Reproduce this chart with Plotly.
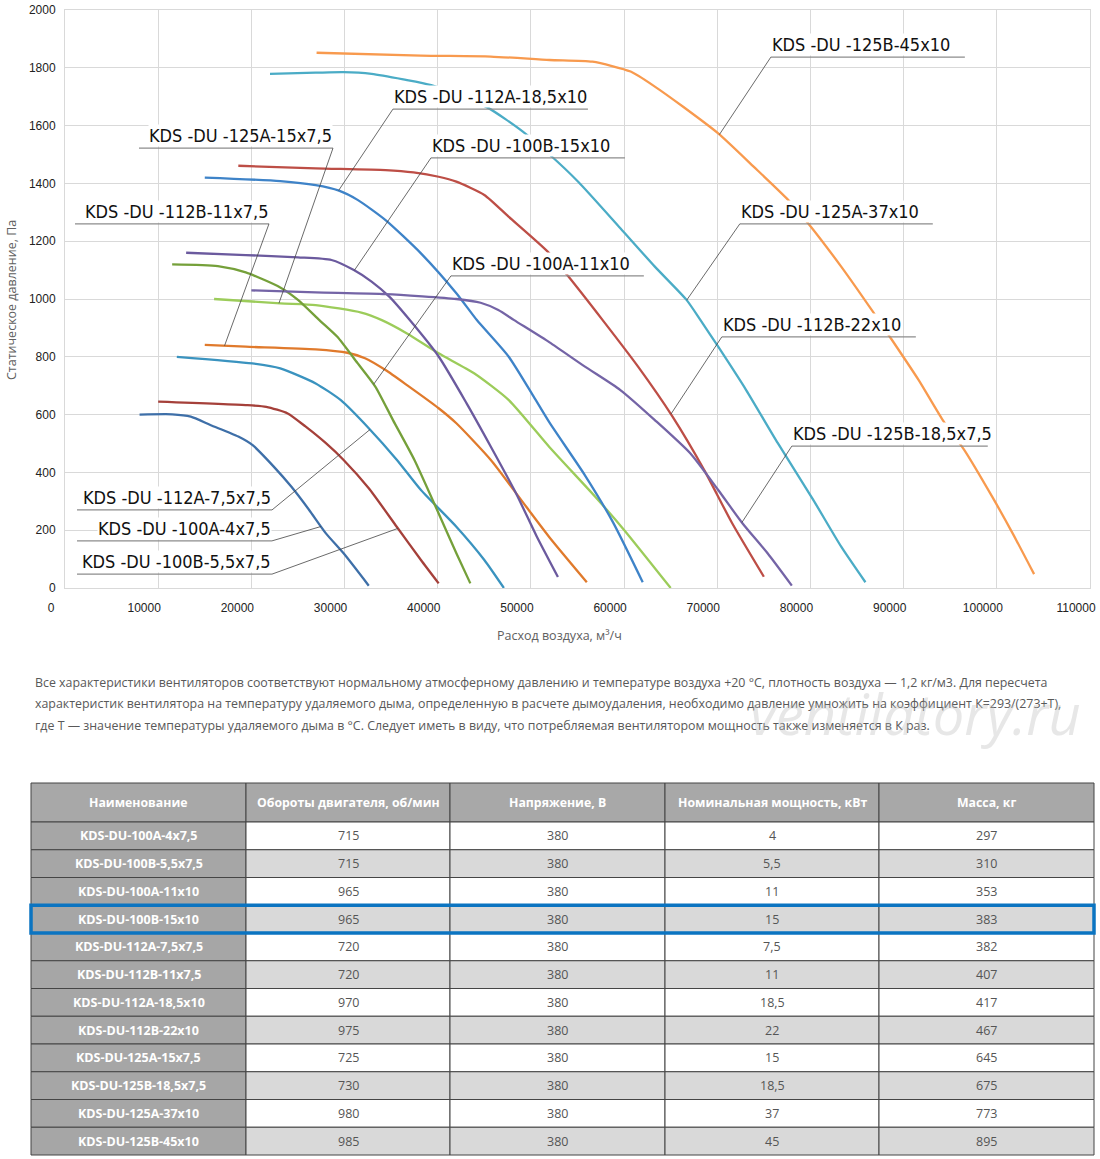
import numpy as np
import plotly.graph_objects as go

# --- fan curves: airflow (m3/h) vs static pressure (Pa) ---
q_100a_4 = [8000, 11500, 13500, 15600, 18600, 20100, 22400, 24300, 26200, 28000, 29900, 32600]
p_100a_4 = [600, 601, 593, 564, 524, 495, 420, 350, 270, 189, 120, 8]

q_100b_55 = [10000, 19400, 21600, 23900, 25800, 28000, 29900, 32600, 35600, 38200, 40100]
p_100b_55 = [645, 633, 627, 604, 559, 501, 443, 345, 212, 97, 16]

q_112a_75 = [12000, 20100, 23100, 26900, 29600, 32600, 35600, 38200, 42000, 45000, 47100]
p_112a_75 = [800, 777, 760, 708, 650, 553, 444, 339, 212, 97, 0]

q_112b_11 = [15000, 19400, 26900, 30300, 32200, 34400, 36700, 40100, 42000, 45700, 49500, 52000, 56000]
p_112b_11 = [841, 835, 826, 814, 795, 754, 702, 622, 570, 443, 281, 175, 20]

q_125a_15 = [16000, 23100, 26900, 31800, 34000, 36700, 40100, 43900, 47600, 52000, 56900, 60000, 65000]
p_125a_15 = [1000, 985, 979, 953, 927, 881, 812, 743, 651, 487, 316, 201, 0]

q_100a_11 = [11500, 16400, 19400, 23100, 25000, 27300, 29200, 31400, 33300, 35200, 37500, 40100, 42000, 43500]
p_100a_11 = [1120, 1114, 1092, 1040, 997, 927, 870, 778, 697, 581, 443, 258, 120, 16]

q_100b_15 = [13000, 19400, 25000, 28600, 31000, 32900, 34800, 37000, 40100, 43100, 45700, 48400, 50600, 52900]
p_100b_15 = [1160, 1152, 1144, 1135, 1100, 1060, 1008, 927, 801, 639, 489, 328, 180, 38]

q_112a_185 = [15000, 23100, 26900, 29400, 31400, 34400, 38200, 42000, 44200, 47600, 50300, 52000, 55800, 58800, 62000]
p_112a_185 = [1420, 1408, 1394, 1375, 1343, 1273, 1158, 1020, 927, 801, 662, 572, 390, 228, 20]

q_112b_22 = [18600, 26900, 34400, 37400, 40100, 42000, 45000, 47600, 51800, 53900, 57700, 61500, 65200, 68600, 71600, 75000]
p_112b_22 = [1461, 1452, 1446, 1438, 1423, 1406, 1360, 1285, 1164, 1083, 927, 766, 593, 408, 224, 39]

q_125b_185 = [20000, 26900, 34400, 42000, 44600, 46500, 48200, 52000, 55800, 59600, 63300, 67100, 70100, 72700, 75400, 78000]
p_125b_185 = [1030, 1023, 1017, 1000, 987, 962, 927, 850, 766, 685, 581, 466, 339, 224, 120, 8]

q_125a_37 = [22000, 26900, 29900, 32900, 36300, 39300, 45300, 49100, 52000, 55100, 59600, 63300, 66700, 68200,
             70100, 73100, 76500, 80300, 83300, 85900]
p_125a_37 = [1779, 1783, 1785, 1779, 1760, 1740, 1663, 1580, 1500, 1405, 1245, 1112, 997, 927,
             835, 685, 501, 305, 143, 20]

q_125b_45 = [27000, 38200, 45700, 52000, 56600, 60700, 63300, 66300, 70100, 73900, 77600, 79700, 83300, 86700,
             88400, 91600, 94200, 96500, 99500, 101700, 104000]
p_125b_45 = [1852, 1842, 1839, 1827, 1821, 1787, 1735, 1666, 1573, 1458, 1343, 1264, 1112, 956,
             875, 720, 581, 478, 316, 189, 48]

# name, flows, pressures, colour
curves = [
    ("KDS-DU-100A-4x7,5", q_100a_4, p_100a_4, "#3e6fa8"),
    ("KDS-DU-100B-5,5x7,5", q_100b_55, p_100b_55, "#a5403a"),
    ("KDS-DU-112A-7,5x7,5", q_112a_75, p_112a_75, "#3a93bf"),
    ("KDS-DU-112B-11x7,5", q_112b_11, p_112b_11, "#e07a2c"),
    ("KDS-DU-125A-15x7,5", q_125a_15, p_125a_15, "#9ccc5a"),
    ("KDS-DU-100A-11x10", q_100a_11, p_100a_11, "#75a03a"),
    ("KDS-DU-100B-15x10", q_100b_15, p_100b_15, "#6b5a9e"),
    ("KDS-DU-112A-18,5x10", q_112a_185, p_112a_185, "#3e83c8"),
    ("KDS-DU-112B-22x10", q_112b_22, p_112b_22, "#bd4e46"),
    ("KDS-DU-125B-18,5x7,5", q_125b_185, p_125b_185, "#7464a6"),
    ("KDS-DU-125A-37x10", q_125a_37, p_125a_37, "#4bacc6"),
    ("KDS-DU-125B-45x10", q_125b_45, p_125b_45, "#f89a4e"),
]

# callout labels: curve name, underline x0, x1, underline y, leader side, target flow on curve
callouts = [
    ("KDS-DU-125B-45x10", 75750, 96570, 1837, "left", 70230),
    ("KDS-DU-112A-18,5x10", 35190, 56120, 1657, "left", 29360),
    ("KDS-DU-125A-15x7,5", 7940, 28760, 1522, "right", 22960),
    ("KDS-DU-100B-15x10", 39270, 60090, 1488, "left", 31050),
    ("KDS-DU-112B-11x7,5", 1070, 21890, 1260, "right", 17120),
    ("KDS-DU-125A-37x10", 72420, 93130, 1260, "left", 66720),
    ("KDS-DU-100A-11x10", 41420, 62120, 1080, "left", 33120),
    ("KDS-DU-112B-22x10", 70490, 91310, 869, "left", 65020),
    ("KDS-DU-125B-18,5x7,5", 78000, 99030, 491, "left", 72640),
    ("KDS-DU-112A-7,5x7,5", 1290, 22210, 270, "right", 32730),
    ("KDS-DU-100A-4x7,5", 1290, 22210, 163, "right", 27470),
    ("KDS-DU-100B-5,5x7,5", 1290, 22210, 48, "right", 35730),
]

# --- table ---
tbl_header = ["Наименование", "Обороты двигателя, об/мин", "Напряжение, В", "Номинальная мощность, кВт", "Масса, кг"]
tbl_names = ["KDS-DU-100A-4x7,5", "KDS-DU-100B-5,5x7,5", "KDS-DU-100A-11x10", "KDS-DU-100B-15x10",
             "KDS-DU-112A-7,5x7,5", "KDS-DU-112B-11x7,5", "KDS-DU-112A-18,5x10", "KDS-DU-112B-22x10",
             "KDS-DU-125A-15x7,5", "KDS-DU-125B-18,5x7,5", "KDS-DU-125A-37x10", "KDS-DU-125B-45x10"]
tbl_rpm = [715, 715, 965, 965, 720, 720, 970, 975, 725, 730, 980, 985]
tbl_voltage = [380, 380, 380, 380, 380, 380, 380, 380, 380, 380, 380, 380]
tbl_power = ["4", "5,5", "11", "15", "7,5", "11", "18,5", "22", "15", "18,5", "37", "45"]
tbl_mass = [297, 310, 353, 383, 382, 407, 417, 467, 645, 675, 773, 895]
highlight_row = 3

note_lines = [
    "Все характеристики вентиляторов соответствуют нормальному атмосферному давлению и температуре воздуха +20 °С, плотность воздуха — 1,2 кг/м3. Для пересчета",
    "характеристик вентилятора на температуру удаляемого дыма, определенную в расчете дымоудаления, необходимо давление умножить на коэффициент К=293/(273+Т),",
    "где Т — значение температуры удаляемого дыма в °С. Следует иметь в виду, что потребляемая вентилятором мощность также изменяется в К раз.",
]

W, H = 1100, 1159


def px(x):
    return x / W


def py(y):
    return 1 - y / H


LABEL_FONT = "DejaVu Sans Condensed, Liberation Sans Narrow, Roboto, sans-serif"
TEXT_FONT = "Open Sans, Noto Sans, sans-serif"

fig = go.Figure()

for name, q, p, col in curves:
    fig.add_trace(go.Scatter(x=q, y=p, mode="lines", name=name,
                             line=dict(color=col, width=2.3, shape="spline", smoothing=0.6),
                             showlegend=False, hoverinfo="x+y+name"))

lookup = {c[0]: c for c in curves}
shapes = []
annotations = []
for name, x0, x1, uy, side, tq in callouts:
    _, q, p, _ = lookup[name]
    ty = float(np.interp(tq, q, p))
    sx = x0 if side == "left" else x1
    annotations.append(dict(
        x=sx, y=uy, xref="x", yref="y",
        xanchor=side, yanchor="bottom", yshift=1,
        text=name.replace("KDS-DU-", "KDS -DU -"), showarrow=False,
        font=dict(family=LABEL_FONT, size=18, color="#111111"),
        bgcolor="white", borderpad=0))
    shapes.append(dict(type="line", xref="x", yref="y", x0=x0, x1=x1, y0=uy, y1=uy,
                       line=dict(color="#8c8c8c", width=1.2), layer="above"))
    shapes.append(dict(type="line", xref="x", yref="y", x0=sx, y0=uy, x1=tq, y1=ty,
                       line=dict(color="#444444", width=0.8), layer="above"))


def note(x, y, text, size, color, **kw):
    opts = dict(x=px(x), y=py(y), xref="paper", yref="paper", text=text, showarrow=False,
                xanchor="center", yanchor="middle", font=dict(family=TEXT_FONT, size=size, color=color))
    opts.update(kw)
    annotations.append(opts)


# axis titles
note(12, 300, "Статическое давление, Па", 12.5, "#606060", textangle=-90)
note(560, 635, "Расход воздуха, м³/ч", 12.5, "#606060")

# note under the chart
for i, line in enumerate(note_lines):
    note(33, 682 + 21.5 * i, line, 12.4, "#595959", xanchor="left")

# watermark
note(915, 713, "<i>ventilatory.ru</i>", 56, "rgba(185,185,185,0.35)")

# table drawn as cells
col_x = [31, 246, 450, 665, 879, 1094]
head_top, head_bot, row_h = 783, 822, 27.75
border = dict(color="#454545", width=1)
columns = [tbl_names, tbl_rpm, tbl_voltage, tbl_power, tbl_mass]

for c, title in enumerate(tbl_header):
    shapes.append(dict(type="rect", xref="paper", yref="paper", layer="below",
                       x0=px(col_x[c]), x1=px(col_x[c + 1]), y0=py(head_top), y1=py(head_bot),
                       fillcolor="#a8a8a8", line=border))
    note((col_x[c] + col_x[c + 1]) / 2, (head_top + head_bot) / 2, "<b>%s</b>" % title, 12.3, "white")

for r in range(len(tbl_names)):
    top = head_bot + r * row_h
    band = "white" if r % 2 == 0 else "#d9d9d9"
    for c, col in enumerate(columns):
        fill = "#a6a6a6" if c == 0 else band
        shapes.append(dict(type="rect", xref="paper", yref="paper", layer="below",
                           x0=px(col_x[c]), x1=px(col_x[c + 1]), y0=py(top), y1=py(top + row_h),
                           fillcolor=fill, line=border))
        if c == 0:
            note((col_x[c] + col_x[c + 1]) / 2, top + row_h / 2, "<b>%s</b>" % col[r], 12.5, "white")
        else:
            note((col_x[c] + col_x[c + 1]) / 2, top + row_h / 2, str(col[r]), 12.5, "#555555")

row_top = head_bot + row_h * highlight_row
shapes.append(dict(type="rect", xref="paper", yref="paper",
                   x0=px(31), x1=px(1094), y0=py(row_top), y1=py(row_top + row_h),
                   line=dict(color="#0b74c1", width=3.5), layer="above"))

fig.update_layout(
    width=W, height=H,
    margin=dict(l=0, r=0, t=0, b=0),
    paper_bgcolor="white", plot_bgcolor="white",
    xaxis=dict(domain=[px(65), px(1090)], range=[0, 110000], dtick=10000, tickformat="d",
               showgrid=True, gridcolor="#d9d9d9", gridwidth=1, zeroline=False,
               showline=True, linecolor="#d9d9d9", mirror=True, ticks="",
               ticklabelstandoff=9, ticklabelshift=-14, ticklabeloverflow="allow",
               tickfont=dict(family="Liberation Sans, Arial, sans-serif", size=12, color="#222222"),
               automargin=False, fixedrange=True),
    yaxis=dict(domain=[py(588), py(10)], range=[0, 2000], dtick=200,
               showgrid=True, gridcolor="#d9d9d9", gridwidth=1, zeroline=False,
               showline=True, linecolor="#d9d9d9", mirror=True, ticks="",
               ticklabelstandoff=6, ticklabeloverflow="allow",
               tickfont=dict(family="Liberation Sans, Arial, sans-serif", size=12, color="#222222"),
               automargin=False, fixedrange=True),
    shapes=shapes,
    annotations=annotations,
)

# the page body has a default 8px margin; drop it so the figure fills the window exactly
fig.write_html("out.html", config={"displayModeBar": False},
               post_script="document.body.style.margin = '0';")
